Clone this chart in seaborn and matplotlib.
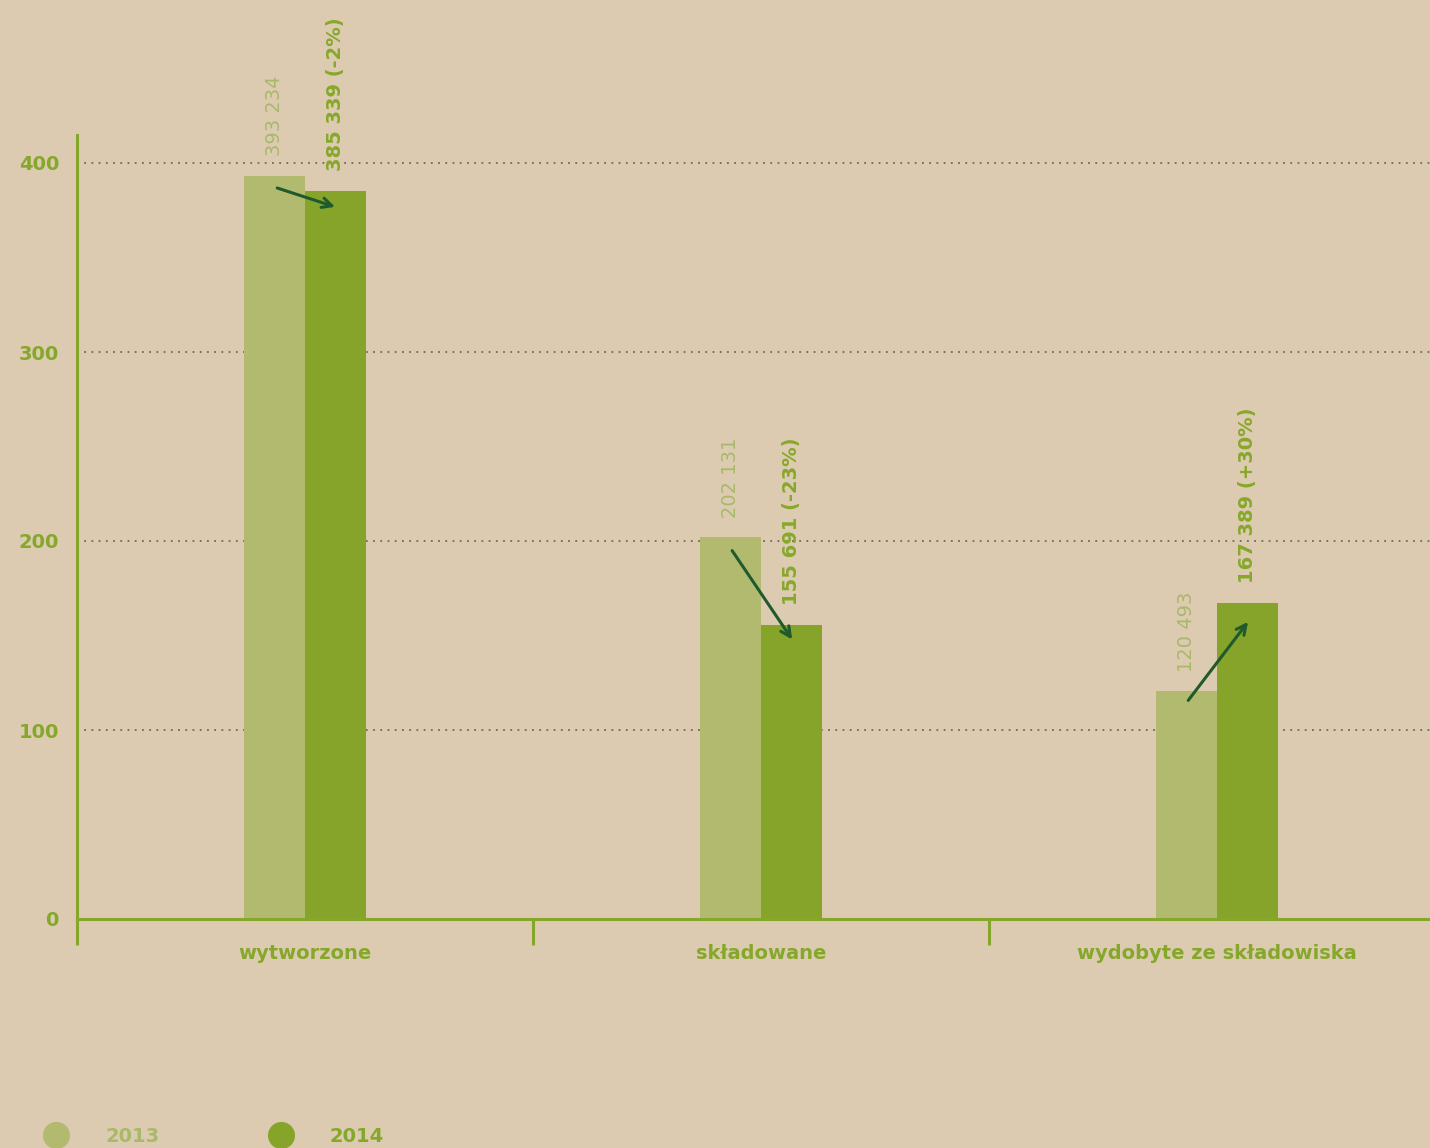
import pandas as pd
import matplotlib.pyplot as plt
import seaborn as sns
from matplotlib.lines import Line2D

# data (tonnes)
categories = ["wytworzone", "składowane", "wydobyte ze składowiska"]
years = ["2013", "2014"]
v2013 = [393234, 202131, 120493]
v2014 = [385339, 155691, 167389]
labels2013 = ["393 234", "202 131", "120 493"]
labels2014 = ["385 339 (-2%)", "155 691 (-23%)", "167 389 (+30%)"]

df = pd.DataFrame({
    "kategoria": categories * 2,
    "rok": [years[0]] * 3 + [years[1]] * 3,
    "wartosc": [v / 1000 for v in v2013 + v2014],
})

bg = "#dccbb0"
c13 = "#b2ba70"
c14 = "#86a42a"
txt = "#86a82a"
txt13 = "#a9b96a"
arrow_c = "#1f5a2c"

sns.set_style("white")
plt.rcParams["font.family"] = ["DejaVu Sans"]

fig = plt.figure(figsize=(14.3, 11.48), dpi=100, facecolor=bg)
ax = fig.add_axes([77 / 1430, 1 - 919 / 1148, 1 - 77 / 1430, (919 - 135) / 1148])
ax.set_facecolor(bg)

bw = 0.267
sns.barplot(data=df, x="kategoria", y="wartosc", hue="rok", order=categories,
            hue_order=years, palette=[c13, c14], width=bw, gap=0,
            saturation=1, linewidth=0, ax=ax, legend=False, zorder=2)

ax.set_xlim(-0.5, (1430 - 77) / 456 - 0.5)
ax.set_ylim(0, (919 - 135) / 1.89)

# grid
for y in [100, 200, 300, 400]:
    ax.axhline(y, color="#6e6a5a", lw=1.3, ls=(0, (1, 3)), zorder=1)

# spines / ticks
for s in ["top", "right"]:
    ax.spines[s].set_visible(False)
for s in ["left", "bottom"]:
    ax.spines[s].set_color(txt)
    ax.spines[s].set_linewidth(2.2)
    ax.spines[s].set_zorder(3)

ax.set_yticks([0, 100, 200, 300, 400])
ax.set_yticklabels(["0", "100", "200", "300", "400"])
ax.tick_params(axis="y", left=False, length=0, pad=13, labelsize=14, labelcolor=txt)
for t in ax.get_yticklabels():
    t.set_fontweight("bold")

ax.set_xticks([-0.5, 0.5, 1.5])
ax.set_xticklabels([])
ax.tick_params(axis="x", bottom=True, length=19, width=2.2, color=txt, direction="out")
ax.set_xlabel("")
ax.set_ylabel("")
for i, cat in enumerate(categories):
    ax.annotate(cat, xy=(i, 0), xycoords="data", xytext=(0, -18),
                textcoords="offset points", ha="center", va="top",
                fontsize=14, fontweight="bold", color=txt)

# value labels and arrows
off = bw / 4
for i in range(3):
    a = v2013[i] / 1000
    b = v2014[i] / 1000
    ax.annotate(labels2013[i], xy=(i - off, a), xytext=(0, 14),
                textcoords="offset points", rotation=90, ha="center",
                va="bottom", fontsize=14, color=txt13)
    ax.annotate(labels2014[i], xy=(i + off, b), xytext=(0, 14),
                textcoords="offset points", rotation=90, ha="center",
                va="bottom", fontsize=14, fontweight="bold", color=txt)
    ax.annotate("", xy=(i + off + 0.005, b - 9), xytext=(i - off, a - 6),
                arrowprops=dict(arrowstyle="->,head_length=0.7,head_width=0.35",
                                color=arrow_c, lw=2.2), zorder=4)

# legend
handles = [Line2D([], [], marker="o", ls="", markersize=18.5, color=c)
           for c in [c13, c14]]
leg = fig.legend(handles, years, loc="lower left", bbox_to_anchor=(0.0136, -0.0134),
                 ncol=2, frameon=False, columnspacing=5.25, handletextpad=1.5,
                 prop={"size": 14, "weight": "bold"}, labelcolor=[txt13, txt])

fig.savefig("out.png", dpi=100, facecolor=bg)
